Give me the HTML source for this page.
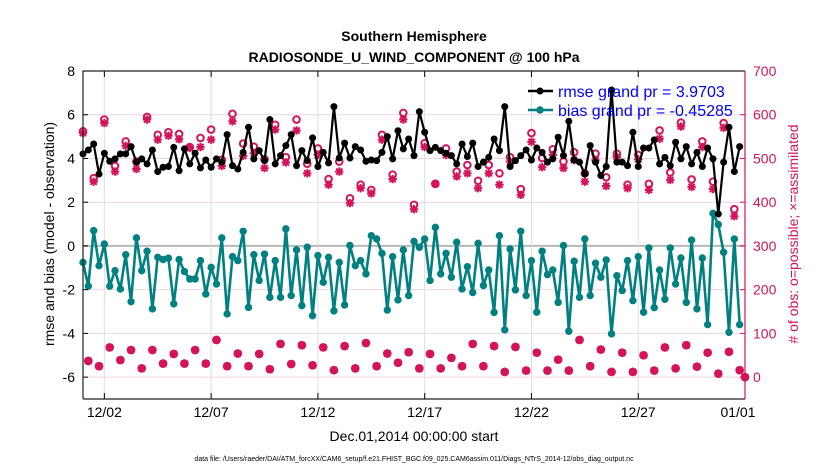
<!DOCTYPE html>
<html><head><meta charset="utf-8"><style>
body{margin:0;background:#fff;}
svg{display:block;font-family:"Liberation Sans",sans-serif;}
</style></head><body>
<svg id="chart" width="830" height="470" viewBox="0 0 830 470" xmlns="http://www.w3.org/2000/svg">
<rect x="0" y="0" width="830" height="470" fill="#fff"/>
<text x="414" y="41" text-anchor="middle" font-size="14" font-weight="bold">Southern Hemisphere</text>
<text x="414" y="62" text-anchor="middle" font-size="14" font-weight="bold">RADIOSONDE_U_WIND_COMPONENT @ 100 hPa</text>
<g id="grid"></g>
<g id="series"></g>
<g id="axes"></g>
<text transform="translate(54,234) rotate(-90)" text-anchor="middle" font-size="14">rmse and bias (model - observation)</text>
<text transform="translate(798,234) rotate(-90)" text-anchor="middle" font-size="14" fill="#d4145a">#  of obs: o=possible; ×=assimilated</text>
<text x="414" y="441" text-anchor="middle" font-size="14">Dec.01,2014 00:00:00 start</text>
<text x="414" y="461" text-anchor="middle" font-size="7">data file: /Users/raeder/DAI/ATM_forcXX/CAM6_setup/f.e21.FHIST_BGC.f09_025.CAM6assim.011/Diags_NTrS_2014-12/obs_diag_output.nc</text>
<g id="legend">
<line x1="528" y1="91" x2="553" y2="91" stroke="#000" stroke-width="2.5"/>
<circle cx="540" cy="91" r="3.5" fill="#000"/>
<text x="558" y="97" font-size="16" fill="#0000ff">rmse grand pr = 3.9703</text>
<line x1="528" y1="110" x2="553" y2="110" stroke="#008080" stroke-width="2.5"/>
<circle cx="540" cy="110" r="3.7" fill="#008080"/>
<text x="558" y="116" font-size="16" fill="#0000ff">bias grand pr = -0.45285</text>
</g>
</svg>
<script>
const rmse = [4.21,4.39,4.66,3.29,4.24,3.87,3.98,4.21,4.21,4.54,3.83,3.98,3.75,4.39,3.4,3.6,3.63,4.51,3.44,4.44,3.75,4.24,3.57,3.93,3.6,3.98,3.83,5.09,3.67,3.52,4.28,5.43,3.98,4.36,3.9,5.78,3.75,4.13,4.59,5.09,3.67,
4.36,3.90,4.94,3.63,4.28,3.80,6.37,4.02,4.70,4.02,4.54,4.39,3.87,3.93,3.90,4.28,5.0,3.98,5.27,4.44,4.89,4.13,6.14,5.20,4.36,4.51,4.36,4.24,4.13,3.75,4.66,4.09,4.70,3.63,3.83,4.05,4.89,4.36,6.37,3.63,3.90,
4.13,4.39,3.93,4.48,4.28,3.83,3.98,4.97,4.13,5.70,3.93,3.83,3.29,4.59,3.83,3.22,3.63,7.13,3.83,3.83,3.67,5.20,3.63,4.48,4.48,4.85,3.75,4.05,3.67,4.74,3.98,4.54,3.75,4.28,3.63,4.48,3.98,1.46,3.83,5.43,3.40,4.54,null];
const bias = [-0.75,-1.84,0.70,-0.90,0.09,-1.84,-1.13,-1.97,-0.40,-2.55,0.37,-1.13,-0.24,-2.88,-0.52,-0.62,-0.56,-2.65,-0.62,-1.17,-1.51,-1.51,-0.67,-2.2,-0.98,-1.74,0.37,-3.11,-0.49,-0.67,0.67,-2.81,-0.40,-1.58,-0.37,-2.35,-0.67,-2.35,0.78,-2.27,-0.18,
-2.73,-0.06,-3.19,-0.44,-1.66,-0.52,-2.97,-0.75,-2.70,0.02,-0.90,-0.67,-1.28,0.47,0.32,-0.34,-2.93,-0.49,-2.47,-0.18,-2.27,0.21,-0.06,0.32,-1.58,0.85,-1.28,-0.34,-1.43,0.17,-1.97,-0.95,-2.13,0.12,-1.81,-1.10,-3.04,0.47,-3.84,-0.14,-2.01,
0.67,-2.27,-0.67,-3.03,-0.24,-1.31,-1.10,-2.58,0.02,-3.90,-0.70,-2.35,0.32,-2.27,-0.79,-1.43,-0.64,-4.02,-1.36,-2.04,-0.67,-2.50,-0.49,-3.03,-0.09,-2.82,-1.10,-2.44,-0.09,-1.74,-0.55,-2.58,0.27,-2.88,-0.55,-3.60,1.49,0.98,-0.29,-3.95,0.32,-3.60,null];
const assimSynoptic = [558,447,581,470,529,476,589,543,552,544,524,526,543,483,585,506,512,478,566,491,564,466,508,440,470,398,432,420,543,453,589,384,526,442,508,459,466,432,466,440,493,417,538,480,508,478,496,447,496,437,503,432,498,428,545,451,573,435,526,430,570,368,0];
const possSynoptic = [562,455,589,483,539,493,595,554,560,556,526,547,566,497,602,534,527,498,577,503,589,488,523,453,493,409,440,428,554,463,604,394,535,442,523,470,485,449,485,466,503,430,558,501,521,493,514,466,511,457,511,440,508,442,564,468,582,452,539,447,581,384,0];
const offSynoptic = [37,25,68,39,62,20,62,31,53,31,62,31,85,25,54,25,53,18,76,30,73,27,68,16,71,20,78,25,54,33,57,20,53,20,44,25,76,25,71,12,69,15,56,15,40,15,85,25,63,12,56,12,50,15,68,20,73,24,56,8,58,16];
const xTickLabels = ["12/02","12/07","12/12","12/17","12/22","12/27","01/01"];
const xTickDays = [1,6,11,16,21,26,31];
const yTicksLeft = [8,6,4,2,0,-2,-4,-6];
const yTicksRight = [700,600,500,400,300,200,100,0];

const NS="http://www.w3.org/2000/svg";
const L=83,R=745,T=71,B=399;
const xS=d=>L+d*(R-L)/31;
const yL=v=>B-(v+7)*(B-T)/15;
const yR=c=>yL(-6+c/50);
const CR="#d4145a";
function mk(tag,attrs,parent){const e=document.createElementNS(NS,tag);for(const k in attrs)e.setAttribute(k,attrs[k]);parent.appendChild(e);return e;}
const grid=document.getElementById('grid'),ser=document.getElementById('series'),axes=document.getElementById('axes');

yTicksLeft.forEach(v=>{
  const g=mk('line',{x1:L,x2:R,y1:yL(v),y2:yL(v),stroke:v===0?'#b8b8b8':'#f0d4de','stroke-width':v===0?2:1},grid);
  
  
  const t=mk('text',{x:L-8,y:yL(v)+5,'text-anchor':'end','font-size':14},axes);
  t.textContent=v;
  
  
  mk('line',{x1:L,x2:L+5,y1:yL(v),y2:yL(v),stroke:'#000'},axes);
});
xTickDays.forEach((d,k)=>{
  const g=mk('line',{x1:xS(d),x2:xS(d),y1:T,y2:B,stroke:'#ddd','stroke-width':1},grid);
  
  
  mk('line',{x1:xS(d),x2:xS(d),y1:B,y2:B-6,stroke:'#000'},axes);
  mk('line',{x1:xS(d),x2:xS(d),y1:T,y2:T+6,stroke:'#000'},axes);
  const t=mk('text',{x:xS(d)-(k===6?7:0),y:B+18,'text-anchor':'middle','font-size':14},axes);
  t.textContent=xTickLabels[k];
  
  
});
yTicksRight.forEach(c=>{
  mk('line',{x1:R,x2:R-5,y1:yR(c),y2:yR(c),stroke:CR},axes);
  const t=mk('text',{x:R+8,y:yR(c)+5,'font-size':14,fill:CR},axes);
  t.textContent=c;
  
  
});
const fr=mk('path',{d:`M${L},${B}V${T}H${R}M${L},${B}H${R}`,fill:'none',stroke:'#222','stroke-width':1.2},axes);


const ra=mk('line',{x1:R,x2:R,y1:T,y2:B,stroke:CR,'stroke-width':1.2},axes);



const N=125;
const poss=[],assim=[];
for(let i=0;i<N;i++){
  if(i%2===0){poss.push(possSynoptic[i/2]);assim.push(assimSynoptic[i/2]);}
  else{poss.push(offSynoptic[(i-1)/2]);assim.push(offSynoptic[(i-1)/2]);}
}
const day=i=>i*0.25;
const cg=mk('g',{},ser);


for(let i=0;i<N;i++){
  const x=xS(day(i));
  const yp=yR(poss[i]),ya=yR(assim[i]);
  const c=mk('circle',{cx:x,cy:yp,r:3.3,fill:'none',stroke:CR,'stroke-width':2},cg);
  
  
  const s=4.2,s2=3.1;
  const a=mk('path',{d:`M${x-s},${ya}H${x+s}M${x},${ya-s}V${ya+s}M${x-s2},${ya-s2}L${x+s2},${ya+s2}M${x-s2},${ya+s2}L${x+s2},${ya-s2}`,stroke:CR,'stroke-width':2,fill:'none'},cg);
  
  
}
function drawSeries(vals,color,r,w,name){
  const g=mk('g',{},ser);
  
  
  let d='';
  vals.forEach((v,i)=>{if(v===null)return;d+=(d?'L':'M')+xS(day(i)).toFixed(1)+','+yL(v).toFixed(1);});
  mk('path',{d:d,fill:'none',stroke:color,'stroke-width':w,'stroke-linejoin':'round'},g);
  vals.forEach((v,i)=>{if(v===null)return;
    const c=mk('circle',{cx:xS(day(i)),cy:yL(v),r:r,fill:color},g);
    
    
  });
}
drawSeries(bias,'#008080',3.7,2.6,'bias-series');
drawSeries(rmse,'#000',3.5,2.2,'rmse-series');
</script>
</body></html>
